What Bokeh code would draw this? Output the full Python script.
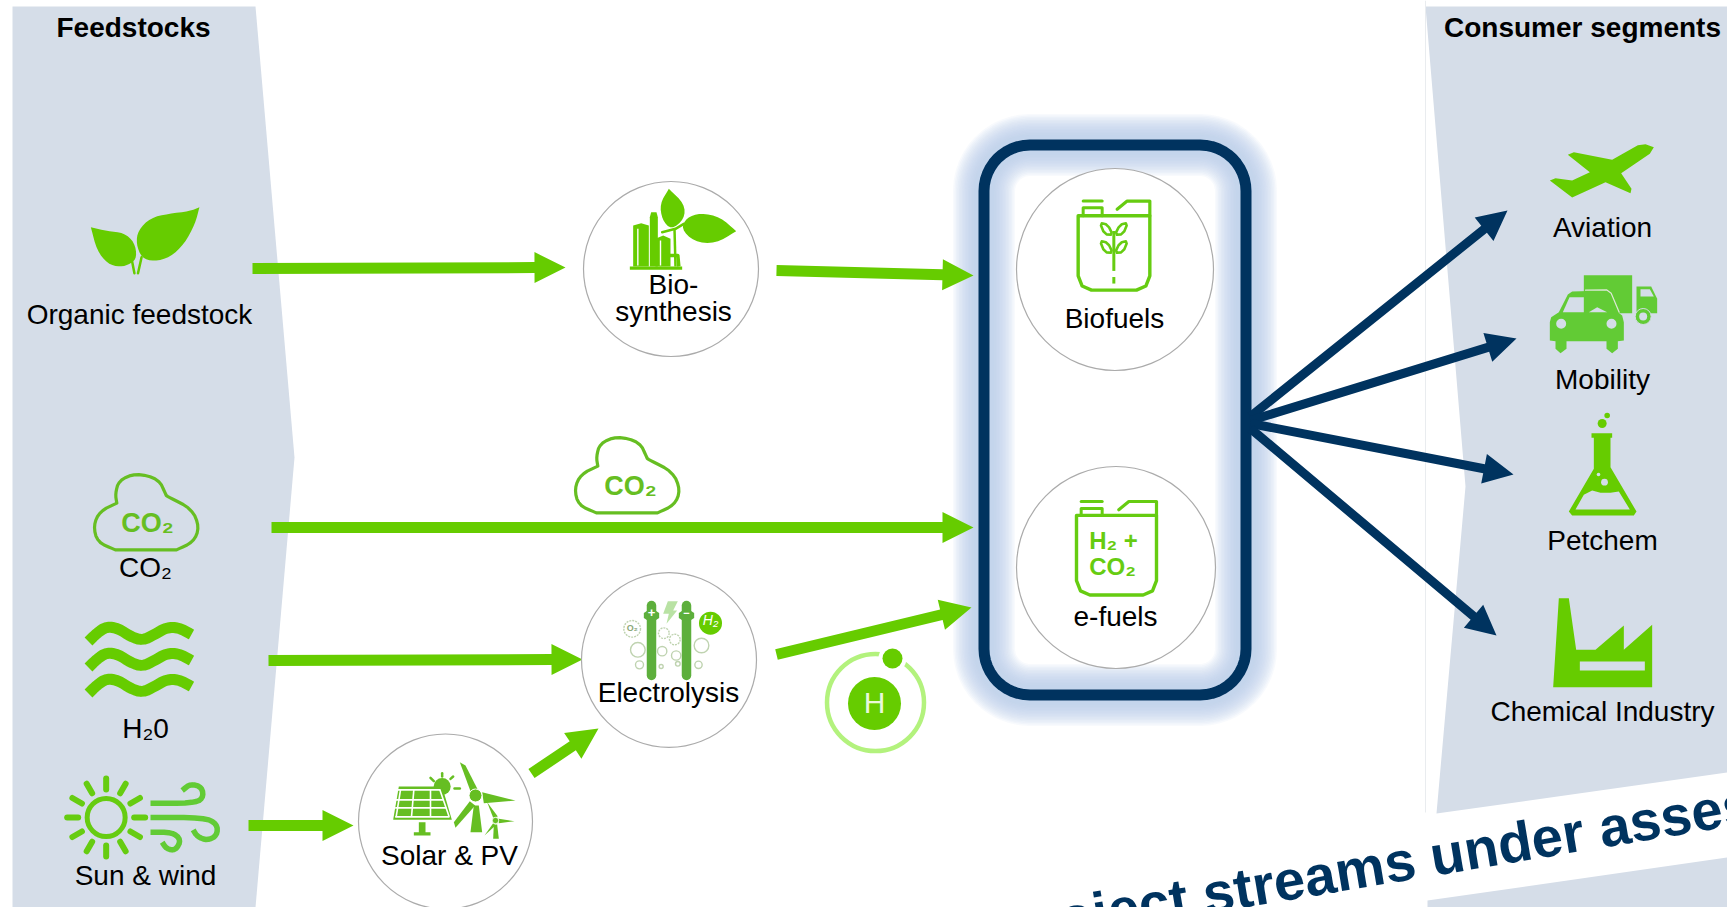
import math
from bokeh.plotting import figure
from bokeh.models import Range1d
from bokeh.core.properties import value
from bokeh.embed import file_html
from bokeh.resources import INLINE

GREEN = "#66CC00"
GREEN2 = "#62CB35"
NAVY = "#00335F"
PANEL = "#D5DDE8"
FONT = "Liberation Sans"

# ---- Labels: text, centre x, baseline y, bold
label_text = ["Feedstocks", "Consumer segments", "Organic feedstock", "CO₂", "H₂0", "Sun & wind",
              "Solar & PV", "Electrolysis", "Bio-", "synthesis", "Biofuels", "e-fuels",
              "Aviation", "Mobility", "Petchem", "Chemical Industry"]
label_x = [133, 1582, 139, 145, 145, 145, 449, 668, 673, 673, 1114, 1115, 1602, 1602, 1602, 1602]
label_y = [37, 37, 324, 577, 738, 885, 865, 702, 294, 321, 328, 626, 237, 389, 550, 721]
label_bold = [True, True] + [False] * 14

# ---- Green arrows: tail x, tail y, tip x, tip y
green_tail_x = [252, 776, 271, 268, 776, 248, 531]
green_tail_y = [268, 270, 527, 660, 654, 825, 773]
green_tip_x = [565, 973, 973, 582, 971, 353, 598]
green_tip_y = [267, 275, 527, 659, 607, 825, 728]

# ---- Navy arrows towards the consumer segments
navy_tail_x = [1250, 1250, 1250, 1250]
navy_tail_y = [416, 420, 423, 428]
navy_tip_x = [1507, 1516, 1513, 1496]
navy_tip_y = [210, 338, 474, 635]

# ---- Process circles: centre x, centre y, width, height
circle_x = [670.5, 668.5, 445, 1114.5, 1115.5]
circle_y = [268.5, 659.5, 821, 269, 567]
circle_w = [175, 175, 174, 197, 199]
circle_h = [175, 175, 175, 202, 202]

p = figure(width=1727, height=907, x_range=Range1d(0, 1727), y_range=Range1d(907, 0),
           x_axis_type=None, y_axis_type=None, toolbar_location=None, output_backend="svg",
           min_border=0, outline_line_color=None, background_fill_color="white",
           border_fill_color="white")
p.grid.visible = False


def Z(pts, ox, oy, sx=3.0, sy=3.0):
    return [(ox + a / sx, oy + b / sy) for a, b in pts]


def chaikin(pts, n=2, closed=True):
    for _ in range(n):
        out = []
        m = len(pts)
        rng = range(m) if closed else range(m - 1)
        if not closed:
            out.append(pts[0])
        for i in rng:
            a, b = pts[i], pts[(i + 1) % m]
            out.append((a[0] * .75 + b[0] * .25, a[1] * .75 + b[1] * .25))
            out.append((a[0] * .25 + b[0] * .75, a[1] * .25 + b[1] * .75))
        if not closed:
            out.append(pts[-1])
        pts = out
    return pts


def fill(pts, color=GREEN, alpha=1.0):
    p.patch([a for a, _ in pts], [b for _, b in pts], fill_color=color, line_color=None, fill_alpha=alpha)


def stroke(pts, color=GREEN, w=3.0, cap="round", alpha=1.0):
    p.line([a for a, _ in pts], [b for _, b in pts], line_color=color, line_width=w,
           line_cap=cap, line_join="round", line_alpha=alpha)


def disc(x, y, r, color=GREEN, line=None, lw=1.0, alpha=1.0, dash="solid", ry=None):
    p.ellipse([x], [y], width=2 * r, height=2 * (ry or r), fill_color=color, fill_alpha=alpha if color else 0,
              line_color=line, line_width=lw, line_dash=dash)


def rect(x0, y0, x1, y1, color=GREEN):
    fill([(x0, y0), (x1, y0), (x1, y1), (x0, y1)], color)


BASE_SHIFT = 0.37  # the SVG text sits this many em below the alphabetic baseline asked for


def text(s, x, y, size, color="black", bold=False, align="center", angle=0.0, italic=False):
    style = "bold" if bold else ("italic" if italic else "normal")
    dy = BASE_SHIFT * size
    return p.text([x], [y - dy], text=[s], text_font=value(FONT), text_font_size=f"{size}px", text_color=color,
                  text_font_style=style, text_align=align, text_baseline="alphabetic", angle=angle)


def arrow(x0, y0, x1, y1, w, hl, hw, color):
    d = math.hypot(x1 - x0, y1 - y0)
    ux, uy = (x1 - x0) / d, (y1 - y0) / d
    nx, ny = -uy, ux
    bx, by = x1 - ux * hl, y1 - uy * hl
    fill([(x0 + nx * w / 2, y0 + ny * w / 2), (bx + nx * w / 2, by + ny * w / 2), (bx + nx * hw, by + ny * hw),
          (x1, y1), (bx - nx * hw, by - ny * hw), (bx - nx * w / 2, by - ny * w / 2),
          (x0 - nx * w / 2, y0 - ny * w / 2)], color)


def rounded(x0, y0, x1, y1, r):
    out = []
    for cx, cy, start in [(x1 - r, y0 + r, -90), (x1 - r, y1 - r, 0), (x0 + r, y1 - r, 90), (x0 + r, y0 + r, 180)]:
        for k in range(0, 13):
            t = math.radians(start + k * 7.5)
            out.append((cx + r * math.cos(t), cy + r * math.sin(t)))
    out.append(out[0])
    return out


# ---- Side panels
fill([(12, 6), (255, 6), (294, 457), (255, 907), (12, 907)], PANEL)
fill([(1425, 6), (1727, 6), (1727, 772), (1436, 813), (1465, 486)], PANEL)
fill([(1427, 900), (1727, 857), (1727, 907), (1427, 907)], PANEL)
p.line([1425, 1425], [0, 812], line_color="#E9ECEF", line_width=1)

# ---- Blue glow and frame of the fuels box
frame = rounded(983.5, 144.5, 1245.5, 694.5, 46)
for w in (62, 59, 56, 53, 50, 47, 44, 41, 38, 35, 32, 29, 26, 23, 20):
    stroke(frame, "#BDD2E8", w, alpha=0.1)
stroke(frame, NAVY, 11)

# ---- Arrows
for a, b, c, d in zip(green_tail_x, green_tail_y, green_tip_x, green_tip_y):
    arrow(a, b, c, d, 11, 31, 15.5, GREEN)
for a, b, c, d in zip(navy_tail_x, navy_tail_y, navy_tip_x, navy_tip_y):
    arrow(a, b, c, d, 9, 30, 15, NAVY)

# ---- Circles
for x, y, w, h in zip(circle_x, circle_y, circle_w, circle_h):
    p.ellipse([x], [y], width=w, height=h, fill_color="white", line_color="#ABABAB", line_width=1.2)

# ---- Leaf (feedstock)
L = [(253, 680), (253, 680), (253, 680), (300, 692), (345, 697), (375, 725), (382, 770), (365, 790), (335, 800), (300, 790), (270, 750)]
R = [(557, 620), (557, 620), (557, 620), (530, 632), (470, 640), (420, 652), (385, 690), (380, 730), (395, 772), (430, 783), (475, 770),
     (515, 730), (545, 670)]
fill(chaikin(Z(L, 0, 0, 2.8, 3), 2))
fill(chaikin(Z(R, 0, 0, 2.8, 3), 2))
stroke(Z([(368, 780), (375, 818)], 0, 0, 2.8, 3), GREEN, 2.5)
stroke(Z([(395, 770), (385, 818)], 0, 0, 2.8, 3), GREEN, 2.5)

# ---- CO2 clouds
cloud = [(225, 328), (225, 328), (345, 328), (345, 328), (378, 305), (390, 260), (375, 205), (330, 170), (325, 165), (325, 165),
         (310, 115), (265, 98), (232, 120), (225, 160), (228, 188), (228, 188), (195, 212), (182, 255), (190, 305)]
for dx, dy, tx, ty in [(0, 0, 147, 532), (481, -37, 630, 495)]:
    pts = [(a + dx, b + dy) for a, b in chaikin(Z(cloud, 0, 440, 1.96, 3), 2)]
    stroke(pts + [pts[0]], "#66BE22", 3.2)
    text("CO₂", tx, ty, 27, "#66BE22", bold=True)

# ---- Water waves
wave = [(88, 641), (96, 633), (106, 626), (118, 628), (130, 636), (142, 640), (154, 634), (166, 627), (178, 627), (191, 634)]
for dy in (0, 26, 52):
    stroke(chaikin([(a, b + dy) for a, b in wave], 2, closed=False), GREEN, 11, cap="butt")

# ---- Sun
disc(60 + 137 / 3, 770 + 141 / 3, 19, None, "#66CC11", 5)
for k in range(12):
    t = math.radians(30 * k)
    cx, cy = 60 + 137 / 3, 770 + 141 / 3
    stroke([(cx + 28 * math.cos(t), cy + 28 * math.sin(t)), (cx + 39 * math.cos(t), cy + 39 * math.sin(t))],
           "#66CC11", 6)

# ---- Wind
for w in ([(270, 98), (395, 98), (428, 85), (425, 50), (390, 40), (365, 60)],
          [(270, 141), (430, 141), (470, 160), (470, 195), (440, 210), (410, 198), (398, 178)],
          [(270, 185), (335, 185), (362, 208), (345, 240), (318, 235), (305, 215)]):
    stroke(chaikin(Z(w, 60, 770), 2, closed=False), GREEN2, 5.5, cap="butt")

# ---- Solar panel and wind turbines
O = (380, 750)
disc(O[0] + 185 / 3, O[1] + 108 / 3, 8.5, "#66BE22")
for (a, b, c, d) in [(185, 68, 185, 78), (150, 82, 160, 92), (222, 114, 238, 114), (210, 85, 218, 78)]:
    stroke(Z([(a, b), (c, d)], *O), "#66BE22", 2.5)
fill(Z([(55, 108), (185, 108), (214, 208), (38, 208)], *O), "#66BE22")
for seg in ([(50, 118), (180, 118)], [(46, 148), (190, 148)], [(44, 172), (198, 172)], [(44, 199), (207, 199)],
            [(100, 118), (93, 199)], [(150, 118), (150, 199)], [(60, 118), (47, 199)], [(178, 118), (206, 199)]):
    stroke(Z(seg, *O), "white", 1.6, cap="butt")
fill(Z([(115, 215), (135, 215), (135, 245), (150, 245), (150, 255), (100, 255), (100, 245), (115, 245)], *O), "#66BE22")
fill(Z([(280, 165), (295, 165), (305, 245), (270, 245)], *O), "#66BE22")
fill(Z([(238, 35), (255, 45), (292, 118), (270, 122)], *O), "#66BE22")
fill(Z([(305, 125), (405, 150), (310, 158)], *O), "#66BE22")
fill(Z([(268, 152), (284, 165), (225, 232), (220, 215)], *O), "#66BE22")
disc(O[0] + 285 / 3, O[1] + 135 / 3, 6.5, "#66BE22", "white", 1)
fill(Z([(340, 222), (350, 222), (355, 265), (338, 265)], *O), "#66BE22")
fill(Z([(320, 155), (352, 198), (338, 202)], *O), "#66BE22")
fill(Z([(355, 205), (402, 212), (355, 218)], *O), "#66BE22")
fill(Z([(338, 218), (345, 225), (312, 255)], *O), "#66BE22")
disc(O[0] + 345 / 3, O[1] + 210 / 3, 3.2, "#66BE22", "white", 0.8)

# ---- Biosynthesis icon
O = (560, 160)
rect(O[0] + 208 / 3, O[1] + 318 / 3, O[0] + 365 / 3, O[1] + 328 / 3)
fill(Z([(218, 318), (218, 195), (242, 188), (265, 195), (265, 318)], *O))
stroke(Z([(232, 205), (232, 315)], *O), "white", 1.4, cap="butt")
fill(Z([(268, 318), (268, 170), (272, 155), (288, 155), (292, 170), (292, 318)], *O))
fill(Z([(285, 318), (285, 235), (308, 225), (330, 235), (330, 318)], *O))
stroke(Z([(300, 240), (300, 315)], *O), "white", 1.4, cap="butt")
fill(chaikin(Z([(325, 85), (325, 85), (325, 85), (298, 130), (305, 178), (332, 208), (372, 175), (372, 130)], *O), 2))
fill(chaikin(Z([(527, 212), (527, 212), (527, 212), (480, 170), (420, 157), (378, 172), (362, 205), (400, 243), (465, 250)], *O), 2))
stroke(Z([(305, 215), (345, 205), (370, 190)], *O), GREEN, 2.5)
stroke(Z([(342, 205), (345, 318)], *O), GREEN, 2.5, cap="butt")
stroke(Z([(310, 285), (352, 285), (355, 318)], *O), GREEN, 3.5, cap="butt")

# ---- Electrolysis icon
O = (560, 560)
for cx, cy, r, d in [(215, 205, 25, "2 1"), (232, 268, 22, "solid"), (237, 313, 12, "solid"), (305, 272, 14, "solid"),
                     (302, 318, 6, "solid"), (310, 218, 16, "2 1"), (343, 237, 16, "2 1"), (347, 285, 14, "solid"),
                     (352, 310, 7, "solid"), (423, 255, 22, "solid"), (414, 313, 11, "solid")]:
    disc(O[0] + cx / 3, O[1] + cy / 3, r / 3, None, "#BFD3B0", 1.4, dash=d)
text("O₂", O[0] + 215 / 3, O[1] + 211 / 3, 9, "#8AA878", bold=True)
fill(Z([(322, 122), (352, 122), (338, 150), (350, 150), (318, 190), (325, 160), (308, 160)], *O), "#B9E2A4")
for x in (273, 378):
    stroke(Z([(x, 135), (x, 345)], *O), "#5DAF3C", 9.5)
    fill(chaikin(Z([(x - 23, 150), (x + 23, 150), (x + 23, 180), (x - 23, 180)], *O), 1), "#5DAF3C")
text("+", O[0] + 273 / 3, O[1] + 171 / 3, 13, "white", bold=True)
text("−", O[0] + 378 / 3, O[1] + 170 / 3, 11, "white", bold=True)
disc(O[0] + 450 / 3, O[1] + 188 / 3, 11.5, GREEN)
text("H₂", O[0] + 450 / 3, O[1] + 195 / 3, 14, "white", italic=True)

# ---- Jerrycans
O = (780, 110)
SX, SY = 3.0, 2.45
C = "#66CC11"
def can(l, r, top, bot, capl, capr, capt, lidy, hs, he):
    body = [(l, top), (r, top), (r, bot - 35), (r - 12, bot - 10), (r - 40, bot), (l + 40, bot), (l + 12, bot - 10), (l, bot - 35), (l, top)]
    stroke(Z(body, *O, SX, SY), C, 3.4)
    stroke(Z([(capl, top), (capl, capt), (capr, capt), (capr, top)], *O, SX, SY), C, 3)
    stroke(Z([(capl, lidy), (capr, lidy)], *O, SX, SY), C, 3)
    stroke(Z([(r, top), (r, hs), (he, hs), (he - 30, hs + 20)], *O, SX, SY), C, 3.2)

can(893, 1108, 258, 440, 908, 965, 238, 222, 222, 1040)
can(888, 1128, 992, 1187, 902, 965, 975, 958, 958, 1045)
stroke(Z([(1000, 295), (1000, 393)], *O, SX, SY), C, 3, cap="butt")
stroke(Z([(1000, 408), (1000, 424)], *O, SX, SY), C, 3, cap="butt")
for yo in (0, 44):
    for sign in (-1, 1):
        lf = [(1000 + sign * 42, 275 + yo), (1000 + sign * 18, 280 + yo), (1000 + sign * 3, 305 + yo), (1000 + sign * 28, 303 + yo)]
        s = chaikin(Z(lf, *O, SX, SY), 1)
        stroke(s + [s[0]], C, 2.6)
text("H₂ +", 1113, 549, 24, C, bold=True)
text("CO₂", 1112, 575, 24, C, bold=True)

# ---- Hydrogen atom
disc(875, 702, 48.5, None, "#B3F27D", 4.5)
disc(874, 703, 26.5, GREEN)
disc(892, 658, 14, "white")
disc(892, 658, 10, GREEN)
text("H", 874, 713, 30, "#EAF8DA")

# ---- Aviation icon
O = (1530, 130)
fill(Z([(370, 50), (345, 41), (322, 44), (245, 88), (130, 65), (112, 73), (178, 125), (125, 150), (75, 143),
        (58, 150), (125, 201), (225, 155), (300, 188), (303, 175), (272, 128), (358, 70)], *O))

# ---- Mobility icon
rect(O[0] + 160 / 3, O[1] + 434 / 3, O[0] + 305 / 3, O[1] + 548 / 3, GREEN2)
fill(Z([(318, 468), (362, 468), (380, 505), (380, 548), (318, 548)], *O), GREEN2)
fill(Z([(330, 476), (358, 476), (370, 498), (330, 498)], *O), PANEL)
disc(O[0] + 338 / 3, O[1] + 558 / 3, 8, GREEN2, PANEL, 1)
disc(O[0] + 338 / 3, O[1] + 558 / 3, 4, PANEL)
car = [(58, 575), (62, 560), (85, 545), (112, 492), (125, 483), (225, 480), (240, 490), (262, 545), (275, 555),
       (280, 575), (280, 630), (262, 632), (262, 655), (245, 668), (228, 655), (228, 632), (108, 632), (108, 655),
       (90, 668), (75, 655), (75, 632), (58, 630)]
fill(Z(car, *O), GREEN2)
stroke(Z([(165, 479), (228, 478), (242, 488), (266, 545)], *O), "#DDE8D6", 1.2)
fill(Z([(97, 545), (117, 500), (160, 500), (160, 545)], *O), PANEL)
fill(Z([(175, 545), (200, 530), (230, 545)], *O), PANEL)
disc(O[0] + 92 / 3, O[1] + 580 / 3, 5, PANEL)
disc(O[0] + 243 / 3, O[1] + 580 / 3, 5, PANEL)

# ---- Petchem icon
O = (1530, 405)
fill(Z([(183, 83), (245, 83), (245, 97), (240, 97), (240, 185), (318, 318), (310, 330), (125, 330), (115, 318),
        (190, 190), (190, 97), (183, 97)], *O))
fill(Z([(135, 312), (298, 312), (265, 258), (240, 262), (210, 262), (185, 255), (160, 268)], *O), PANEL)
disc(O[0] + 222 / 3, O[1] + 230 / 3, 3.4, PANEL)
disc(O[0] + 204 / 3, O[1] + 207 / 3, 1.8, PANEL)
disc(O[0] + 215 / 3, O[1] + 54 / 3, 4.5)
disc(O[0] + 230 / 3, O[1] + 30 / 3, 2.8)

# ---- Chemical industry icon
fill(Z([(68, 845), (85, 578), (115, 578), (137, 733), (195, 733), (280, 660), (280, 733), (365, 658), (365, 845)], *O))
rect(O[0] + 148 / 3, O[1] + 768 / 3, O[0] + 343 / 3, O[1] + 795 / 3, PANEL)

# ---- All labels
for s, x, y, b in zip(label_text, label_x, label_y, label_bold):
    text(s, x, y, 28, "black", bold=b)

# ---- Rotated banner text, cut by the page edge as in the reference
text("project streams under assessment", 1459, 872, 56, NAVY, bold=True, angle=math.radians(9.5))

open("out.html", "w").write(file_html(p, INLINE))
